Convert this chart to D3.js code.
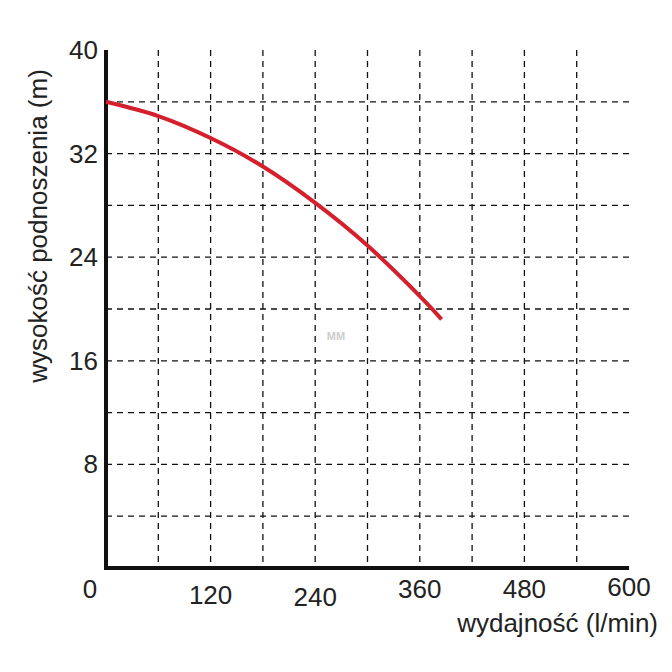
<!DOCTYPE html><html><head><meta charset="utf-8"><script src="https://d3js.org/d3.v7.min.js"></script>
<style>body{margin:0;background:#fff}text{font-family:"Liberation Sans",Arial,sans-serif}</style></head><body><svg id="c" width="672" height="672"></svg>
<script>
const flow=[0,60,120,180,240,300,360,385];
const head=[36,34.9,33.2,31,28.2,24.9,21,19.2];
const xTicks=[0,120,240,360,480,600];
const yTicks=[8,16,24,32,40];
const svg=d3.select("#c");
const x=d3.scaleLinear().domain([0,600]).range([106,629]);
const y=d3.scaleLinear().domain([0,40]).range([568,50]);
const dash="6,5";
svg.append("g").selectAll("line").data(d3.range(60,600,60)).join("line")
 .attr("x1",d=>x(d)).attr("x2",d=>x(d)).attr("y1",y(40)).attr("y2",y(0))
 .attr("stroke","#111").attr("stroke-width",1.3).attr("stroke-dasharray",dash);
svg.append("g").selectAll("line").data(d3.range(4,40,4)).join("line")
 .attr("x1",x(0)).attr("x2",x(600)).attr("y1",d=>y(d)).attr("y2",d=>y(d))
 .attr("stroke","#111").attr("stroke-width",1.3).attr("stroke-dasharray",dash);
svg.append("line").attr("x1",x(0)).attr("x2",x(0)).attr("y1",y(40)).attr("y2",y(0)+2).attr("stroke","#111").attr("stroke-width",4);
svg.append("line").attr("x1",x(0)-2).attr("x2",x(600)).attr("y1",y(0)).attr("y2",y(0)).attr("stroke","#111").attr("stroke-width",4);
svg.append("path").datum(flow.map((f,i)=>[f,head[i]]))
 .attr("d",d3.line().x(d=>x(d[0])).y(d=>y(d[1])).curve(d3.curveNatural))
 .attr("fill","none").attr("stroke","#d61f2c").attr("stroke-width",4);
const xOff=[-16,0,0,0,0,0], yOff=[598,604,606,598,598,596];
svg.append("g").selectAll("text").data(xTicks).join("text")
 .attr("x",(d,i)=>x(d)+xOff[i]).attr("y",(d,i)=>yOff[i]).attr("text-anchor","middle").attr("font-size",26).attr("fill","#222").text(d=>d);
svg.append("g").selectAll("text").data(yTicks).join("text")
 .attr("x",98).attr("y",d=>y(d)+9).attr("text-anchor","end").attr("font-size",26).attr("fill","#222").text(d=>d);
svg.append("text").attr("x",658).attr("y",632).attr("text-anchor","end").attr("font-size",26).attr("fill","#222").text("wydajność (l/min)");
svg.append("text").attr("transform","translate(47,226) rotate(-90)").attr("text-anchor","middle").attr("font-size",26).attr("fill","#222").text("wysokość podnoszenia (m)");
svg.append("text").attr("x",336).attr("y",340).attr("text-anchor","middle").attr("font-size",11).attr("font-weight","bold").attr("fill","#ccc").text("MM");
</script></body></html>
